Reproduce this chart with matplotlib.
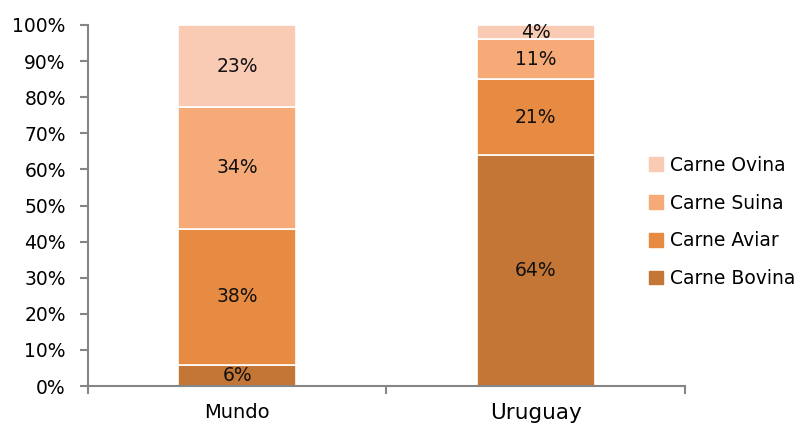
import numpy as np
import matplotlib.pyplot as plt
from matplotlib.patches import Patch

categories = ["Mundo", "Uruguay"]
series = ["Carne Bovina", "Carne Aviar", "Carne Suina", "Carne Ovina"]
bovina = [6, 64]
aviar = [38, 21]
suina = [34, 11]
ovina = [23, 4]
colors = ["#C37636", "#E88B42", "#F6AA78", "#F9CAB4"]

values = np.array([bovina, aviar, suina, ovina], dtype=float)
# 100% stacked: each column normalised to its own total
shares = values / values.sum(axis=0) * 100

plt.rcParams["font.family"] = "DejaVu Sans"
fig = plt.figure(figsize=(8.04, 4.25), dpi=100)
ax = fig.add_axes([88 / 804, 1 - 386 / 425, 597 / 804, 361 / 425])

x = np.arange(len(categories))
bottom = np.zeros(len(categories))
for name, col, sh, raw in zip(series, colors, shares, values):
    ax.bar(x, sh, width=0.395, bottom=bottom, color=col,
           edgecolor="white", linewidth=1.2, label=name)
    for xi, b, h, r in zip(x, bottom, sh, raw):
        ax.text(xi, b + h / 2, f"{r:.0f}%", ha="center", va="center",
                fontsize=13.5, color="#111111")
    bottom += sh

ax.set_xlim(-0.5, 1.5)
ax.set_ylim(0, 100)
ax.set_yticks(np.arange(0, 101, 10))
ax.set_yticklabels([f"{v}%" for v in range(0, 101, 10)], fontsize=13.5)
ax.set_xticks([-0.5, 0.5, 1.5])
ax.set_xticklabels([])
ax.set_xticks(x, minor=True)
ax.set_xticklabels(categories, minor=True, fontsize=14)
# Uruguay label is drawn a bit larger in the original
ax.get_xticklabels(minor=True)[1].set_fontsize(15.5)
ax.tick_params(axis="x", which="minor", length=0, pad=12)
ax.tick_params(axis="x", which="major", length=6, width=1.5, color="#868686")
ax.tick_params(axis="y", length=6, width=1.5, color="#868686", pad=10)

for side in ["top", "right"]:
    ax.spines[side].set_visible(False)
for side in ["left", "bottom"]:
    ax.spines[side].set_color("#868686")
    ax.spines[side].set_linewidth(1.5)

handles = [Patch(facecolor=c, edgecolor=c, label=s)
           for c, s in zip(colors[::-1], series[::-1])]
fig.legend(handles=handles, loc="center left",
           bbox_to_anchor=(649 / 804, 1 - 222 / 425), frameon=False,
           fontsize=13.5, handlelength=0.75, handleheight=0.75,
           handletextpad=0.35, labelspacing=1.0, borderpad=0,
           borderaxespad=0)

fig.savefig("out.png", dpi=100)
